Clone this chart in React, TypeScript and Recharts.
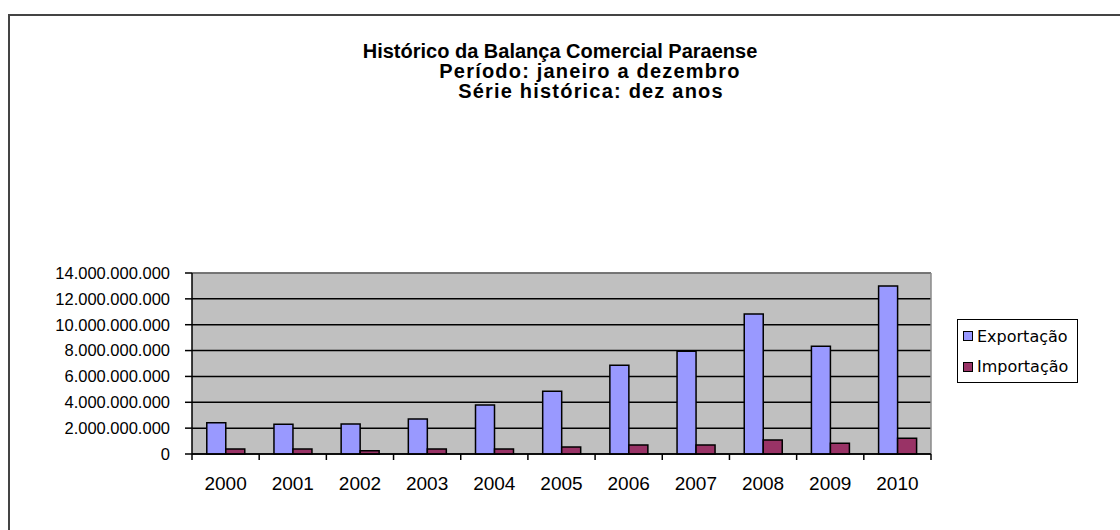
import React from 'react';
import {
    BarChart,
    Bar,
    XAxis,
    YAxis,
    CartesianGrid,
    Legend,
    ReferenceLine
} from 'recharts';

// anos da série
const anos = ['2000', '2001', '2002', '2003', '2004', '2005', '2006', '2007', '2008', '2009', '2010'];

// valores em US$
const exportacao = [
    2420000000, 2300000000, 2320000000, 2710000000, 3790000000, 4850000000,
    6860000000, 7950000000, 10830000000, 8330000000, 12990000000
];
const importacao = [
    390000000, 380000000, 260000000, 390000000, 380000000, 540000000,
    700000000, 700000000, 1080000000, 830000000, 1210000000
];

const yTicks = [0, 2000000000, 4000000000, 6000000000, 8000000000, 10000000000, 12000000000, 14000000000];
// marcas entre as categorias (0..11)
const edgeTicks = [0, 1, 2, 3, 4, 5, 6, 7, 8, 9, 10, 11];

const titulo = [
    'Histórico da Balança Comercial Paraense',
    'Período: janeiro a dezembro',
    'Série histórica: dez anos'
];

const series = [
    { key: 'exportacao', name: 'Exportação', color: '#9999ff' },
    { key: 'importacao', name: 'Importação', color: '#993366' }
];

// pos = centro de cada ano na escala numérica 0..11
const chartData = anos.map((ano, i) => ({
    ano,
    pos: i + 0.5,
    exportacao: exportacao[i],
    importacao: importacao[i]
}));

const formatBR = (v: number) => String(v).replace(/\B(?=(\d{3})+(?!\d))/g, '.');

const LegendBox = () => (
    <div
        style={{
            width: 121,
            height: 64,
            boxSizing: 'border-box',
            border: '1.5px solid #000',
            background: '#fff',
            paddingTop: 1,
            fontFamily: '"DejaVu Sans", sans-serif',
            fontSize: 16,
            color: '#000'
        }}
    >
        {series.map((s) => (
            <div key={s.key} style={{ display: 'flex', alignItems: 'center', height: 30.5 }}>
                <span
                    style={{
                        display: 'inline-block',
                        width: 8,
                        height: 8,
                        marginLeft: 5,
                        marginRight: 4,
                        background: s.color,
                        border: '1.5px solid #000'
                    }}
                />
                <span>{s.name}</span>
            </div>
        ))}
    </div>
);

const App: React.FC = () => {
    const titleLine = (text: string, top: number, cx: number, spacing: number) => (
        <div
            key={text}
            style={{
                position: 'absolute',
                left: cx - 300,
                width: 600,
                top,
                textAlign: 'center',
                fontWeight: 'bold',
                fontSize: 20,
                lineHeight: '20px',
                letterSpacing: spacing,
                color: '#000',
                whiteSpace: 'nowrap'
            }}
        >
            {text}
        </div>
    );

    return (
        <div
            style={{
                position: 'absolute',
                left: 0,
                top: 0,
                width: 1120,
                height: 530,
                overflow: 'hidden',
                background: '#fff',
                fontFamily: '"Liberation Sans", Arial, sans-serif'
            }}
        >
            {/* moldura do gráfico */}
            <div
                style={{
                    position: 'absolute',
                    left: 8,
                    top: 14,
                    width: 1200,
                    height: 600,
                    border: '2px solid #444'
                }}
            />

            {titleLine(titulo[0], 41, 560, 0)}
            {titleLine(titulo[1], 61, 590, 1.2)}
            {titleLine(titulo[2], 81, 591, 1.2)}

            <div style={{ position: 'absolute', left: 0, top: 0 }}>
                <BarChart
                    width={1120}
                    height={530}
                    data={chartData}
                    margin={{ top: 273, right: 189, left: 0, bottom: 0 }}
                    barCategoryGap="22%"
                    barGap={0}
                >
                    <CartesianGrid
                        xAxisId="years"
                        vertical={false}
                        stroke="#000"
                        strokeWidth={1.5}
                        fill="#c0c0c0"
                        fillOpacity={1}
                    />
                    {/* eixo auxiliar: linha do eixo e marcas entre os anos */}
                    <XAxis
                        xAxisId="edges"
                        type="number"
                        dataKey="pos"
                        domain={[0, 11]}
                        ticks={edgeTicks}
                        allowDataOverflow
                        tick={() => <g />}
                        axisLine={{ stroke: '#000', strokeWidth: 1.5 }}
                        tickLine={{ stroke: '#000', strokeWidth: 1.5 }}
                        tickSize={6}
                        height={1}
                    />
                    <XAxis
                        xAxisId="years"
                        dataKey="ano"
                        height={75}
                        axisLine={false}
                        tickLine={false}
                        tickSize={5}
                        tickMargin={17}
                        interval={0}
                        tick={{ fill: '#000', fontSize: 19 }}
                    />
                    <YAxis
                        domain={[0, 14000000000]}
                        ticks={yTicks}
                        interval={0}
                        width={192}
                        axisLine={{ stroke: '#000', strokeWidth: 1.5 }}
                        tickLine={{ stroke: '#000', strokeWidth: 1.5 }}
                        tickSize={7}
                        tickMargin={15}
                        tickFormatter={formatBR}
                        tick={{ fill: '#000', fontSize: 16.5 }}
                    />
                    <ReferenceLine y={14000000000} xAxisId="years" stroke="#8a8a8a" strokeWidth={1.5} />
                    <ReferenceLine x={11} xAxisId="edges" stroke="#8a8a8a" strokeWidth={1.5} />
                    <Legend
                        layout="horizontal"
                        verticalAlign="middle"
                        align="center"
                        content={() => <LegendBox />}
                        wrapperStyle={{ position: 'absolute', left: 957, top: 319, width: 121, height: 64 }}
                    />
                    {series.map((s) => (
                        <Bar
                            key={s.key}
                            xAxisId="years"
                            dataKey={s.key}
                            name={s.name}
                            fill={s.color}
                            stroke="#000"
                            strokeWidth={1.5}
                            isAnimationActive={false}
                        />
                    ))}
                </BarChart>
            </div>
        </div>
    );
};

export default App;
